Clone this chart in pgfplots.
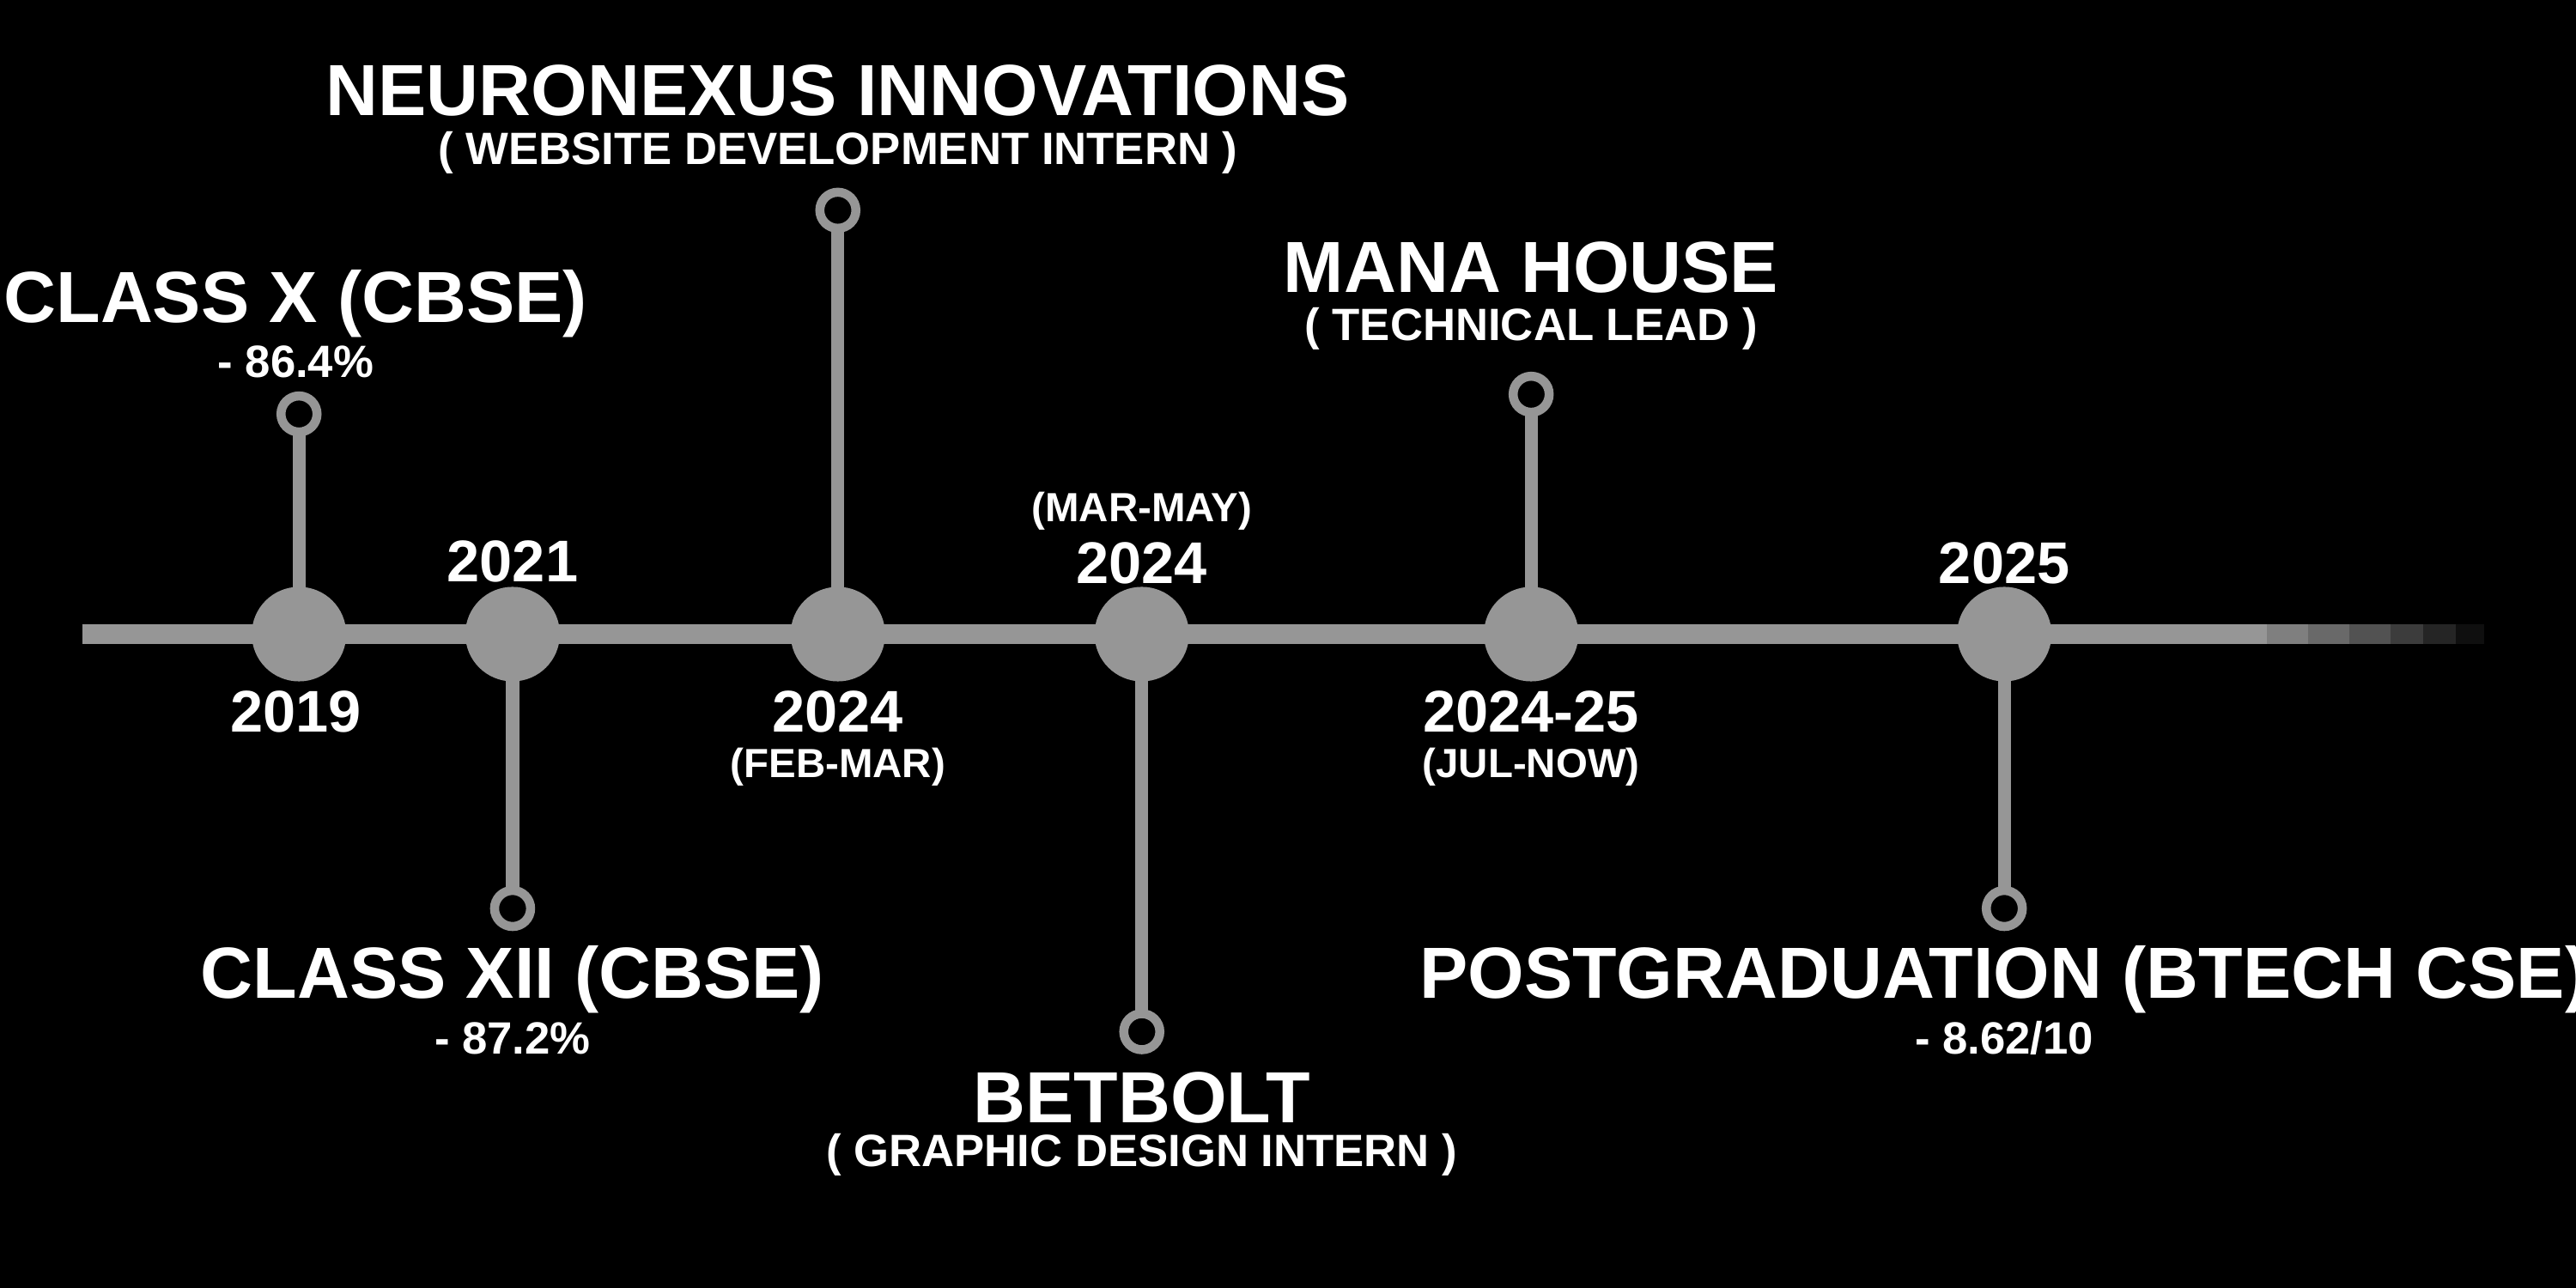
\documentclass[border=0pt]{standalone}
\usepackage{pgfplots}
\pgfplotsset{compat=1.18}
\usepackage{fontspec}
\setmainfont{Liberation Sans}
\definecolor{tl}{RGB}{150,150,150}
\tikzset{lab/.style={text=white,align=center,inner sep=0pt}}
\begin{document}
\begin{tikzpicture}
\useasboundingbox (0,0) rectangle (20cm,10cm);
\fill[black] (-1cm,-1cm) rectangle (21cm,11cm);
\begin{axis}[at={(0,0)},anchor=south west,width=20cm,height=10cm,scale only axis,
  xmin=0,xmax=1568,ymin=0,ymax=784,hide axis,clip=false]
% main line
\addplot[tl,line width=4.3pt] coordinates {(50,398) (1380,398)};
\addplot[tl,line width=4.3pt,opacity=0.85] coordinates {(1380,398) (1405,398)};
\addplot[tl,line width=4.3pt,opacity=0.7] coordinates {(1405,398) (1430,398)};
\addplot[tl,line width=4.3pt,opacity=0.55] coordinates {(1430,398) (1455,398)};
\addplot[tl,line width=4.3pt,opacity=0.4] coordinates {(1455,398) (1475,398)};
\addplot[tl,line width=4.3pt,opacity=0.25] coordinates {(1475,398) (1495,398)};
\addplot[tl,line width=4.3pt,opacity=0.1] coordinates {(1495,398) (1512,398)};
% stems
\addplot[tl,line width=2.9pt,unbounded coords=jump] coordinates {
(182,398) (182,532) (nan,nan)
(312,398) (312,231) (nan,nan)
(510,398) (510,656) (nan,nan)
(695,398) (695,156) (nan,nan)
(932,398) (932,544) (nan,nan)
(1220,398) (1220,231)};
% big circles
\addplot[only marks,mark=*,mark size=0.36cm,color=tl] coordinates {
(182,398) (312,398) (510,398) (695,398) (932,398) (1220,398)};
% rings
\addplot[only marks,mark=*,mark size=0.14cm,draw=tl,fill=black,line width=2pt] coordinates {
(182,532) (312,231) (510,656) (695,156) (932,544) (1220,231)};
% labels
\node[lab,font=\bfseries\fontsize{16}{18}\selectfont] at (axis cs:180,599) {CLASS X (CBSE)};
\node[lab,font=\bfseries\fontsize{10}{12}\selectfont] at (axis cs:180,564) {- 86.4\%};
\node[lab,font=\bfseries\fontsize{13}{15}\selectfont] at (axis cs:180,351) {2019};
\node[lab,font=\bfseries\fontsize{13}{15}\selectfont] at (axis cs:312,442) {2021};
\node[lab,font=\bfseries\fontsize{16}{18}\selectfont] at (axis cs:312,188) {CLASS XII (CBSE)};
\node[lab,font=\bfseries\fontsize{10}{12}\selectfont] at (axis cs:312,152) {- 87.2\%};
\node[lab,font=\bfseries\fontsize{16}{18}\selectfont] at (axis cs:510,729) {NEURONEXUS INNOVATIONS};
\node[lab,font=\bfseries\fontsize{10}{12}\selectfont] at (axis cs:510,691) {( WEBSITE DEVELOPMENT INTERN )};
\node[lab,font=\bfseries\fontsize{13}{15}\selectfont] at (axis cs:510,351) {2024};
\node[lab,font=\bfseries\fontsize{9}{11}\selectfont] at (axis cs:510,317) {(FEB-MAR)};
\node[lab,font=\bfseries\fontsize{9}{11}\selectfont] at (axis cs:695,473) {(MAR-MAY)};
\node[lab,font=\bfseries\fontsize{13}{15}\selectfont] at (axis cs:695,441) {2024};
\node[lab,font=\bfseries\fontsize{16}{18}\selectfont] at (axis cs:695,116) {BETBOLT};
\node[lab,font=\bfseries\fontsize{10}{12}\selectfont] at (axis cs:695,81) {( GRAPHIC DESIGN INTERN )};
\node[lab,font=\bfseries\fontsize{16}{18}\selectfont] at (axis cs:932,621) {MANA HOUSE};
\node[lab,font=\bfseries\fontsize{10}{12}\selectfont] at (axis cs:932,584) {( TECHNICAL LEAD )};
\node[lab,font=\bfseries\fontsize{13}{15}\selectfont] at (axis cs:932,351) {2024-25};
\node[lab,font=\bfseries\fontsize{9}{11}\selectfont] at (axis cs:932,317) {(JUL-NOW)};
\node[lab,font=\bfseries\fontsize{13}{15}\selectfont] at (axis cs:1220,441) {2025};
\node[lab,font=\bfseries\fontsize{16}{18}\selectfont] at (axis cs:1220,188) {POSTGRADUATION (BTECH CSE)};
\node[lab,font=\bfseries\fontsize{10}{12}\selectfont] at (axis cs:1220,152) {- 8.62/10};
\end{axis}
\end{tikzpicture}
\end{document}
